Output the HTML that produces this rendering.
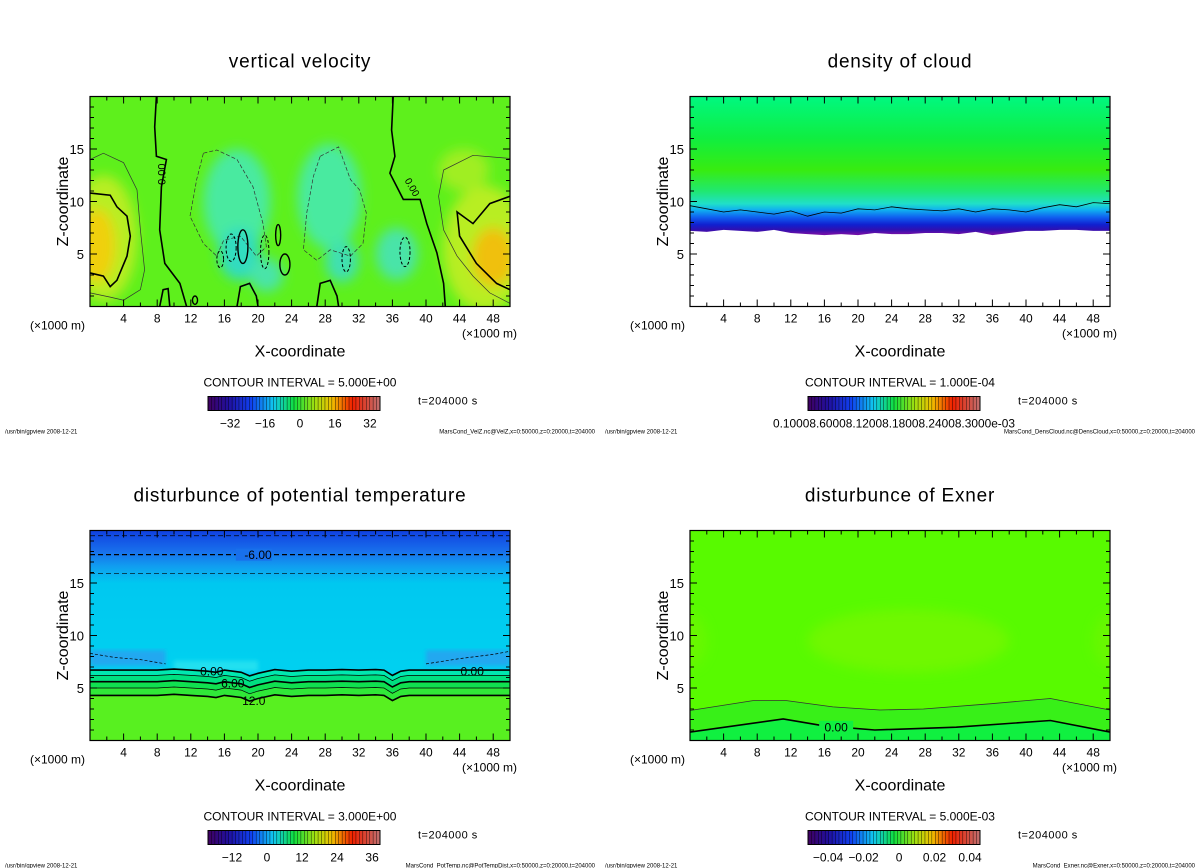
<!DOCTYPE html>
<html><head><meta charset="utf-8"><style>
html,body{margin:0;padding:0;background:#fff;width:1200px;height:868px;overflow:hidden}
svg{display:block}
text{font-family:"Liberation Sans",sans-serif;fill:#000}
</style></head><body>
<svg id="s" width="1200" height="868" viewBox="0 0 1200 868">
<defs>
<filter id="bl" x="-20%" y="-20%" width="140%" height="140%"><feGaussianBlur stdDeviation="6"/></filter>
<filter id="bl2"><feGaussianBlur stdDeviation="2"/></filter>
<linearGradient id="cbg" x1="0" x2="1" y1="0" y2="0">
<stop offset="0" stop-color="#400060"/><stop offset="0.12" stop-color="#2010a0"/><stop offset="0.25" stop-color="#1040f0"/>
<stop offset="0.38" stop-color="#10c8f0"/><stop offset="0.5" stop-color="#10e040"/><stop offset="0.62" stop-color="#a0e010"/>
<stop offset="0.72" stop-color="#f0c000"/><stop offset="0.84" stop-color="#f02000"/><stop offset="1" stop-color="#c07070"/>
</linearGradient>
<linearGradient id="gCloud" x1="0" x2="0" y1="0" y2="1" gradientUnits="userSpaceOnUse">
</linearGradient>
</defs>
</svg>
<script>
// ---------- data arrays ----------
var xTicks=[4,8,12,16,20,24,28,32,36,40,44,48];
var zTicks=[5,10,15];
var titles=["vertical velocity","density of cloud","disturbunce of potential temperature","disturbunce of Exner"];
var intervals=["CONTOUR INTERVAL = 5.000E+00","CONTOUR INTERVAL = 1.000E-04","CONTOUR INTERVAL = 3.000E+00","CONTOUR INTERVAL = 5.000E-03"];
var cbLabelsVel=["-32","-16","0","16","32"];var cbValsVel=[-32,-16,0,16,32];var cbRangeVel=[-42.1,36.6];
var cbLabelsTh=["-12","0","12","24","36"];var cbValsTh=[-12,0,12,24,36];var cbRangeTh=[-20.2,38.7];
var cbLabelsEx=["-0.04","-0.02","0","0.02","0.04"];var cbValsEx=[-0.04,-0.02,0,0.02,0.04];var cbRangeEx=[-0.0513,0.0456];
var footRight=["MarsCond_VelZ.nc@VelZ,x=0:50000,z=0:20000,t=204000","MarsCond_DensCloud.nc@DensCloud,x=0:50000,z=0:20000,t=204000","MarsCond_PotTemp.nc@PotTempDist,x=0:50000,z=0:20000,t=204000","MarsCond_Exner.nc@Exner,x=0:50000,z=0:20000,t=204000"];
// vertical velocity contours [x km, z km]
var velZeroLeft=[[7.9,20],[7.7,17.1],[7.9,14.3],[9.1,14],[8.5,11.4],[8.3,7.3],[8.9,4.1],[10.7,2.2],[11.5,0]];
var velZeroRight=[[36.1,20],[35.9,16.8],[36.3,14.3],[35.7,12.7],[37.3,10.2],[39.3,10.2],[40.1,7.9],[41.3,5.1],[42.1,2.2],[42.3,0]];
var velPosLeftIn=[[0,10.8],[2.4,10.6],[3.2,9.5],[4.4,8.6],[4.8,6.7],[4.4,4.8],[3.2,2.5],[2.4,1.9],[1.6,2.9],[0,3.2]];
var velPosLeftOut=[[0,14],[1.6,14.6],[4,13.7],[5.6,11.1],[6,7.3],[6.5,3.5],[6,1.6],[4,0.6],[2.4,0.9],[0,1.3]];
var velPosRightIn=[[50,10.5],[47.6,9.8],[45.6,7.9],[43.7,9],[44,6.7],[46,4.1],[48.4,2.2],[50,1.6]];
var velPosRightOut=[[50,14.1],[45.6,14.4],[42.1,13],[41.5,10.5],[42.1,7.3],[43.7,4.8],[45.6,2.9],[47.6,1.3],[50,0.3]];
var velNegA=[[13.5,14.6],[15.1,14.9],[17.5,14],[19.4,11.4],[20.6,7.9],[21,5.7],[19.8,4.8],[17.9,6.7],[15.9,6.3],[15.1,4.8],[13.5,6],[11.9,8.6],[12.7,12.1],[13.5,14.6]];
var velNegB=[[27.4,14.3],[29.6,15.2],[31,12.1],[32.1,11.1],[32.9,8.9],[32.5,6],[31,4.8],[28.6,5.4],[27,4.4],[25.4,5.4],[25.8,8.9],[26.6,12.4],[27.4,14.3]];
var velBumps=[[[17.5,0],[17.9,1.9],[19,2.2],[19.8,1],[20,0]],[[27,0],[27.4,2.2],[28.6,2.5],[29.4,1],[29.6,0]],[[8.3,0],[8.7,1.6],[9.3,1.7],[9.5,0]]];
var velWarmBlobs=[[0.8,5.8,2.2,3.5,"#f0d010"],[48,4.7,2.5,2.8,"#f0c010"],[1.6,6.5,4,6,"#b8ee20"],[47,5.5,5,6,"#b8ee20"],[44.5,13,3,2,"#a0ee20"]];
var velCoolBlobs=[[17.5,10,4,5,"#48eaa0"],[28.5,10.5,3.8,5,"#48eaa0"],[17.8,5,2.5,2.5,"#30dcc0"],[30,4.3,2,2,"#40e0b0"],[36.5,5,2.5,2.5,"#48e4a8"],[21,3,2,1.6,"#48e4a8"]];
// cloud density
var cloudX=[0,2,4,6,8,10,12,14,16,18,20,22,24,26,28,30,32,34,36,38,40,42,44,46,48,50];
var cloudBase=[7.2,7.1,7.3,7.2,7.1,7.3,7.0,6.9,6.8,6.9,6.8,7.0,6.9,6.9,7.0,7.0,6.9,7.1,6.8,7.0,7.2,7.2,7.3,7.3,7.2,7.2];
var cloudTop=[9.6,9.3,9.0,9.2,9.0,8.8,9.1,8.6,9.0,8.9,9.3,9.2,9.5,9.3,9.2,9.1,9.3,9.0,9.3,9.2,9.0,9.4,9.7,9.5,9.9,9.8];
// potential temperature: contour base heights + shared perturbation
var thX=[0,4,8,10,12,14,15,16,17,18,19,20,22,24,26,28,30,32,34,35,36,37,38,40,44,48,50];
var thPert=[0,0,0,0.1,0,-0.1,-0.2,0,-0.1,-0.2,-0.55,-0.3,0.05,-0.1,0,0,0.05,0,0.05,0,-0.5,-0.1,0,0,0,0,0];
var thLevels=[6.7,6.2,5.6,5.0,4.3];var thThick=[true,false,true,false,true];
var thBandColors=["#00e8b0","#00e080","#10e050","#30e838","#58f020"];
var thDashed=[19.5,17.7,15.9];
// Exner contours
var exX=[0,7.5,11.5,17,22.6,27.8,35.7,42.9,50];
var exThin=[2.86,3.8,3.8,3.2,2.9,3.0,3.5,4.0,2.9];
var exThickX=[0,11.1,15.9,22,31.7,42.9,50];
var exThick=[0.8,2.06,1.4,1.0,1.27,1.9,0.8];

// ---------- helpers ----------
var S=document.getElementById('s'),NS="http://www.w3.org/2000/svg";
function mk(t,a,p){var e=document.createElementNS(NS,t);for(var k in a)e.setAttribute(k,a[k]);(p||S).appendChild(e);return e;}
function tx(s,a,p){var e=mk('text',a,p);e.textContent=s;return e;}
var panels=[{L:90,B:306.5},{L:690,B:306.5},{L:90,B:740.5},{L:690,B:740.5}];
function axX(P){return function(x){return P.L+x*8.4;};}
function axZ(P){return function(z){return P.B-z*10.5;};}
function pathOf(pts,fx,fz,close){var d="";pts.forEach(function(p,i){d+=(i?"L":"M")+fx(p[0]).toFixed(1)+","+fz(p[1]).toFixed(1);});return d+(close?"Z":"");}

panels.forEach(function(P,i){
  var g=mk('g',{});  
  P.g=g; P.fx=axX(P); P.fz=axZ(P);
  var cp=mk('clipPath',{id:'cp'+i},g); mk('rect',{x:P.L,y:P.B-210,width:420,height:210},cp);
  P.field=mk('g',{'clip-path':'url(#cp'+i+')'},g);
   
});

// ---------- panel 1: vertical velocity ----------
(function(){var P=panels[0],f=P.field,fx=P.fx,fz=P.fz;
 mk('rect',{x:P.L,y:P.B-210,width:420,height:210,fill:'#5ef01c'},f);
 var bg=mk('g',{filter:'url(#bl)'},f);
 velWarmBlobs.slice(2).concat(velWarmBlobs.slice(0,2)).forEach(function(b){mk('ellipse',{cx:fx(b[0]),cy:fz(b[1]),rx:b[2]*8.4,ry:b[3]*10.5,fill:b[4]},bg);});
 velCoolBlobs.forEach(function(b){mk('ellipse',{cx:fx(b[0]),cy:fz(b[1]),rx:b[2]*8.4,ry:b[3]*10.5,fill:b[4]},bg);});
 var lg=mk('g',{fill:'none',stroke:'#000'},f);
 [velZeroLeft,velZeroRight,velPosLeftIn,velPosRightIn].forEach(function(c){mk('path',{d:pathOf(c,fx,fz),'stroke-width':1.6},lg);});
 velBumps.forEach(function(c){mk('path',{d:pathOf(c,fx,fz),'stroke-width':1.6},lg);});
 [velPosLeftOut,velPosRightOut].forEach(function(c){mk('path',{d:pathOf(c,fx,fz),'stroke-width':0.7,stroke:'#333'},lg);});
 [velNegA,velNegB].forEach(function(c){mk('path',{d:pathOf(c,fx,fz,true),'stroke-width':0.7,'stroke-dasharray':'4,2',stroke:'#333'},lg);});
 [[16.8,5.6,0.6,1.3],[20.8,5.2,0.5,1.6],[30.5,4.5,0.5,1.2],[37.5,5.2,0.6,1.4],[15.5,4.5,0.4,0.8]].forEach(function(e){mk('ellipse',{cx:fx(e[0]),cy:fz(e[1]),rx:e[2]*8.4,ry:e[3]*10.5,'stroke-width':1,'stroke-dasharray':'3,2'},lg);});
 [[18.2,5.7,0.6,1.6],[22.4,6.8,0.3,1],[23.2,4,0.6,1],[12.5,0.6,0.3,0.4]].forEach(function(e){mk('ellipse',{cx:fx(e[0]),cy:fz(e[1]),rx:e[2]*8.4,ry:e[3]*10.5,'stroke-width':1.4},lg);});
 var lb=tx('0.00',{x:fx(9.0),y:fz(12.6),'font-size':11,transform:'rotate(-90 '+fx(9.0)+' '+fz(12.6)+')','text-anchor':'middle'},f);
  
 tx('0.00',{x:fx(38),y:fz(11.2),'font-size':10,transform:'rotate(60 '+fx(38)+' '+fz(11.2)+')','text-anchor':'middle'},f);
})();

// ---------- panel 2: density of cloud ----------
(function(){var P=panels[1],f=P.field,fx=P.fx,fz=P.fz;
 var gr=document.getElementById('gCloud');
 gr.setAttribute('x1',0);gr.setAttribute('x2',0);gr.setAttribute('y1',fz(20));gr.setAttribute('y2',fz(6.5));
 [[20,'#00f880'],[16,'#10ee40'],[13,'#38ec10'],[11,'#20e870'],[9.8,'#20e0c8'],[9.2,'#10b0f0'],[8.5,'#1060f0'],[7.8,'#1020d0'],[7.3,'#3010b0'],[6.9,'#7010a8'],[6.5,'#7010a8']].forEach(function(s){mk('stop',{offset:((20-s[0])/13.5).toFixed(3),'stop-color':s[1]},gr);});
 mk('rect',{x:P.L,y:P.B-210,width:420,height:210,fill:'url(#gCloud)'},f);
 var top=cloudX.map(function(x,i){return [x,cloudTop[i]];});
 var base=cloudX.map(function(x,i){return [x,cloudBase[i]];});
 var d=pathOf(base,fx,fz)+"L"+fx(50)+","+fz(0)+"L"+fx(0)+","+fz(0)+"Z";
 mk('path',{d:d,fill:'#fff'},f);
 var cl=mk('path',{d:pathOf(top,fx,fz),fill:'none',stroke:'#000','stroke-width':0.8},f);
  
})();

// ---------- panel 3: potential temperature ----------
(function(){var P=panels[2],f=P.field,fx=P.fx,fz=P.fz;
 var gr=mk('linearGradient',{id:'gTh',x1:0,x2:0,y1:fz(20),y2:fz(7),gradientUnits:'userSpaceOnUse'},S.querySelector('defs'));
 [[20,'#1040e0'],[18,'#1870ec'],[16.5,'#10a0f0'],[15,'#00c8f0'],[7,'#00d0f0']].forEach(function(s){mk('stop',{offset:((20-s[0])/13).toFixed(3),'stop-color':s[1]},gr);});
 mk('rect',{x:P.L,y:P.B-210,width:420,height:210,fill:'url(#gTh)'},f);
 var bg=mk('g',{filter:'url(#bl2)'},f);
 mk('rect',{x:fx(0),y:fz(8.6),width:9*8.4,height:1.5*10.5,fill:'#20a8f0'},bg);
 mk('rect',{x:fx(40),y:fz(8.6),width:10*8.4,height:1.5*10.5,fill:'#20a8f0'},bg);
 mk('rect',{x:fx(10),y:fz(7.6),width:10*8.4,height:1*10.5,fill:'#20e0f0'},bg);
 function lvl(z0){return thX.map(function(x,i){return [x,z0+thPert[i]];});}
 thLevels.forEach(function(z0,k){
  var c=lvl(z0);var d=pathOf(c,fx,fz)+"L"+fx(50)+","+fz(0)+"L"+fx(0)+","+fz(0)+"Z";
  mk('path',{d:d,fill:thBandColors[k]},f);
 });
 thLevels.forEach(function(z0,k){
  var l=mk('path',{d:pathOf(lvl(z0),fx,fz),fill:'none',stroke:'#000','stroke-width':thThick[k]?1.6:0.7},f);
   
 });
 thDashed.forEach(function(z,k){mk('line',{x1:fx(0),x2:fx(50),y1:fz(z),y2:fz(z),stroke:'#000','stroke-width':k==1?1.3:0.7,'stroke-dasharray':'5,3'},f);});
 mk('path',{d:pathOf([[0,8.3],[3,7.9],[6,7.7],[9,7.3]],fx,fz),fill:'none',stroke:'#000','stroke-width':0.7,'stroke-dasharray':'3,2'},f);
 mk('path',{d:pathOf([[40,7.3],[44,7.8],[48,8.2],[50,8.5]],fx,fz),fill:'none',stroke:'#000','stroke-width':0.7,'stroke-dasharray':'3,2'},f);
 mk('rect',{x:fx(19.5)-18,y:fz(17.7)-6,width:36,height:12,fill:'#1870ec'},f);
 tx('-6.00',{x:fx(20),y:fz(17.7)+4.5,'font-size':12,'text-anchor':'middle'},f);
 tx('0.00',{x:fx(14.5),y:fz(6.6)+4.5,'font-size':12,'text-anchor':'middle'},f);
 tx('0.00',{x:fx(45.5),y:fz(6.6)+4.5,'font-size':12,'text-anchor':'middle'},f);
 tx('6.00',{x:fx(17),y:fz(5.5)+4.5,'font-size':12,'text-anchor':'middle'},f);
 tx('12.0',{x:fx(19.5),y:fz(3.8)+4.5,'font-size':12,'text-anchor':'middle'},f);
})();

// ---------- panel 4: Exner ----------
(function(){var P=panels[3],f=P.field,fx=P.fx,fz=P.fz;
 mk('rect',{x:P.L,y:P.B-210,width:420,height:210,fill:'#58fa00'},f);
 var bg=mk('g',{filter:'url(#bl)'},f);
 mk('ellipse',{cx:fx(26),cy:fz(9.5),rx:12*8.4,ry:3*10.5,fill:'#70f800'},bg);
 mk('ellipse',{cx:fx(0),cy:fz(9.5),rx:2*8.4,ry:2.5*10.5,fill:'#68f800'},bg);
 mk('ellipse',{cx:fx(50),cy:fz(9.5),rx:2*8.4,ry:2.5*10.5,fill:'#68f800'},bg);
 var thin=exX.map(function(x,i){return [x,exThin[i]];});
 var thick=exThickX.map(function(x,i){return [x,exThick[i]];});
 mk('path',{d:pathOf(thin,fx,fz)+"L"+fx(50)+","+fz(0)+"L"+fx(0)+","+fz(0)+"Z",fill:'#38f018'},f);
 mk('path',{d:pathOf(thick,fx,fz)+"L"+fx(50)+","+fz(0)+"L"+fx(0)+","+fz(0)+"Z",fill:'#10f040'},f);
 mk('path',{d:pathOf(thin,fx,fz),fill:'none',stroke:'#333','stroke-width':0.8},f);
 mk('path',{d:pathOf(thick,fx,fz),fill:'none',stroke:'#000','stroke-width':1.6},f);
 mk('rect',{x:fx(17.4)-17,y:fz(1.3)-6,width:34,height:12,fill:'#10f040'},f);
 tx('0.00',{x:fx(17.4),y:fz(1.3)+4.5,'font-size':12,'text-anchor':'middle'},f);
})();

// ---------- axes, labels, colorbars ----------
var cbConf=[[cbLabelsVel,cbValsVel,cbRangeVel],null,[cbLabelsTh,cbValsTh,cbRangeTh],[cbLabelsEx,cbValsEx,cbRangeEx]];
panels.forEach(function(P,i){var g=P.g,fx=P.fx,fz=P.fz,L=P.L,B=P.B,T=B-210,R=L+420,cx=L+210;
 var fr=mk('rect',{x:L,y:T,width:420,height:210,fill:'none',stroke:'#000','stroke-width':1.2},g);
  
 var tk=mk('g',{stroke:'#000','stroke-width':1},g);
 for(var x=2;x<50;x+=2){var len=(x%4==0)?7:4;mk('line',{x1:fx(x),x2:fx(x),y1:B,y2:B-len},tk);mk('line',{x1:fx(x),x2:fx(x),y1:T,y2:T+len},tk);}
 for(var z=1;z<20;z++){var len2=(z%5==0)?7:4;mk('line',{x1:L,x2:L+len2,y1:fz(z),y2:fz(z)},tk);mk('line',{x1:R,x2:R-len2,y1:fz(z),y2:fz(z)},tk);}
 xTicks.forEach(function(v){var t=tx(String(v),{x:fx(v),y:B+16,'font-size':12,'text-anchor':'middle'},g);});
 zTicks.forEach(function(v){var t=tx(String(v),{x:L-6,y:fz(v)+5,'font-size':13,'text-anchor':'end'},g);});
 tx('(×1000 m)',{x:L-60,y:B+23,'font-size':12},g);
 tx('(×1000 m)',{x:R+7,y:B+31,'font-size':12,'text-anchor':'end'},g);
 var xl=tx('X-coordinate',{x:cx,y:B+50,'font-size':16,'text-anchor':'middle'},g);
 var zl=tx('Z-coordinate',{x:0,y:0,'font-size':16,'text-anchor':'middle',transform:'translate('+(L-22)+','+(B-105)+') rotate(-90)'},g);
 var ti=tx(titles[i],{x:cx,y:T-29,'font-size':19,'text-anchor':'middle','letter-spacing':'0.8'},g);
 tx(intervals[i],{x:cx,y:B+80,'font-size':12,'text-anchor':'middle'},g);
 var cb=mk('g',{},g);
 var cbx=L+118,cbw=172,cby=B+90,cbh=14;
 mk('rect',{x:cbx,y:cby,width:cbw,height:cbh,fill:'url(#cbg)'},cb);
 for(var k=1;k<50;k++){mk('line',{x1:cbx+k*cbw/50,x2:cbx+k*cbw/50,y1:cby,y2:cby+cbh,stroke:'#000','stroke-width':0.5,'stroke-opacity':0.8},cb);}
 mk('rect',{x:cbx,y:cby,width:cbw,height:cbh,fill:'none',stroke:'#000','stroke-width':1},cb);
 var c=cbConf[i];
 if(c){c[1].forEach(function(v,j){var xx=cbx+(v-c[2][0])/(c[2][1]-c[2][0])*cbw;tx(c[0][j].replace('-','−'),{x:xx,y:cby+31,'font-size':12,'text-anchor':'middle'},cb);});}
 else{tx('0.10008.60008.12008.18008.24008.3000e-03',{x:cbx-35,y:cby+31,'font-size':12,textLength:242,lengthAdjust:'spacingAndGlyphs'},cb);}
 tx('t=204000 s',{x:L+328,y:B+98,'font-size':11,fill:'#444','letter-spacing':'0.5'},g);
 tx('/usr/bin/gpview  2008-12-21',{x:L-85,y:B+127,'font-size':6},g);
 tx(footRight[i],{x:L+505,y:B+127,'font-size':6,'text-anchor':'end'},g);
});
</script>
</body></html>
